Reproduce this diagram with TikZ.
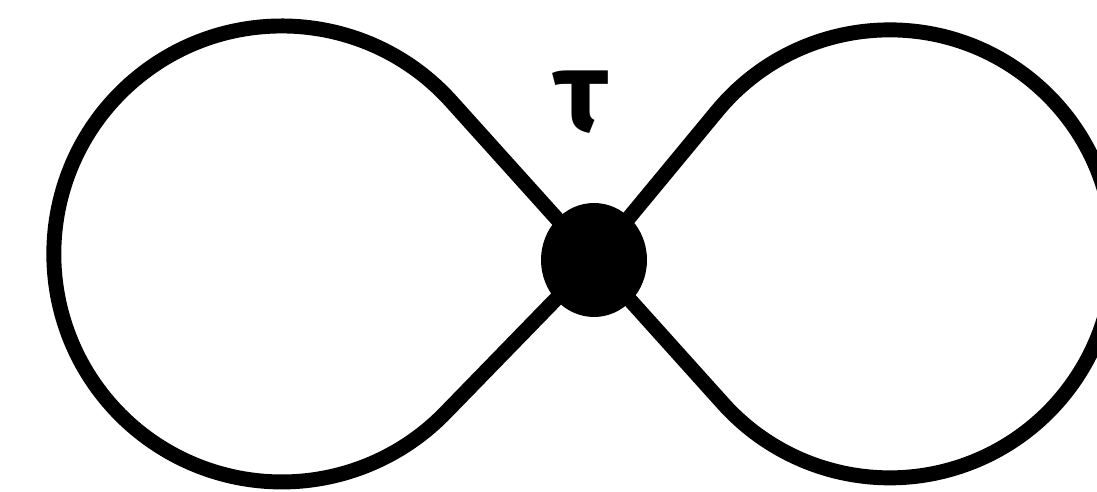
\documentclass[tikz,border=0pt]{standalone}
\usepackage{fontspec}
\newfontfamily\greekfont{Fira Sans}
\usetikzlibrary{shapes.geometric}
\begin{document}
\begin{tikzpicture}[x=0.02cm,y=0.02cm,
  prop/.style={line width=8.5pt,black},
  vertex/.style={ellipse,fill=black,minimum width=2.12cm,minimum height=2.28cm,inner sep=0pt}]
\path[use as bounding box] (0,0) rectangle (1097,492);
\node[vertex] (v) at (594,232) {};
\coordinate (lt) at (451.5,390.3);
\coordinate (rt) at (717.4,381.2);
\draw[prop] (v.center) -- (lt) arc[start angle=41.9,end angle=315.9,radius=228] -- (v.center);
\draw[prop] (v.center) -- (rt) arc[start angle=140.3,end angle=-138,radius=224] -- (v.center);
\node (tau) at (581,390) {\greekfont\bfseries\fontsize{65}{70}\selectfont τ};
\end{tikzpicture}
\end{document}
